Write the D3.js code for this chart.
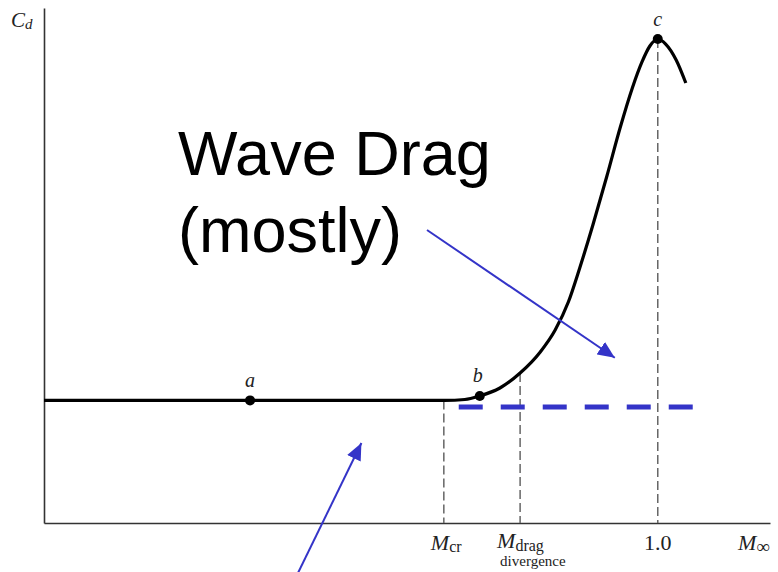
<!DOCTYPE html>
<html>
<head>
<meta charset="utf-8">
<script src="https://cdn.jsdelivr.net/npm/d3@7"></script>
<style>
  html, body { margin: 0; padding: 0; background: #fff; }
  svg { display: block; }
</style>
</head>
<body>
<svg id="chart" width="778" height="572"></svg>
<script>
// Drag coefficient vs. free-stream Mach number (transonic drag rise)
const machValues = [0.30, 0.535, 0.757, 0.780, 0.797, 0.820, 0.843, 0.866, 0.883, 0.898, 0.911, 0.926, 0.942, 0.957, 0.971, 0.982, 0.991, 1.000, 1.009, 1.021, 1.032];
const cdValues   = [0.0100, 0.0100, 0.0100, 0.01007, 0.01036, 0.01101, 0.01223, 0.01395, 0.01574, 0.01802, 0.02080, 0.02430, 0.02830, 0.03221, 0.03548, 0.03760, 0.03890, 0.03947, 0.03906, 0.03776, 0.03588];

// Labelled points on the curve
const pointNames = ["a", "b", "c"];
const pointMach  = [0.535, 0.797, 1.000];
const pointCd    = [0.0100, 0.01036, 0.03947];

// Reference Mach numbers marked on the axis
const markMach  = [0.756, 0.843, 1.000];
const markCdTop = [0.0100, 0.01223, 0.03947];

// Baseline (profile) drag extended past the critical Mach number
const baseMach = [0.773, 1.040];
const baseCd   = [0.00946, 0.00946];

const svg = d3.select("#chart");

const x = d3.scaleLinear().domain([0.30, 1.128]).range([44, 770]);
const y = d3.scaleLinear().domain([0, 0.042]).range([523, 8]);

// axes
const xAxis = d3.axisBottom(x).tickValues([]).tickSize(0).tickSizeOuter(0);
const yAxis = d3.axisLeft(y).tickValues([]).tickSize(0).tickSizeOuter(0);
const gx = svg.append("g").attr("transform", `translate(0,${y(0)})`).call(xAxis);
const gy = svg.append("g").attr("transform", `translate(${x(0.30)},0)`).call(yAxis);
[gx, gy].forEach(g => g.select(".domain").attr("stroke", "#333").attr("stroke-width", 1.6));

// vertical dashed guides
svg.append("g").selectAll("line")
  .data(markMach)
  .join("line")
  .attr("x1", d => x(d)).attr("x2", d => x(d))
  .attr("y1", (d, i) => y(markCdTop[i])).attr("y2", y(0))
  .attr("stroke", "#666")
  .attr("stroke-width", 1.5)
  .attr("stroke-dasharray", "9,4");

// drag curve
const curveData = machValues.map((m, i) => [m, cdValues[i]]);
svg.append("path")
  .datum(curveData)
  .attr("fill", "none")
  .attr("stroke", "#000")
  .attr("stroke-width", 3.2)
  .attr("d", d3.line().x(d => x(d[0])).y(d => y(d[1])).curve(d3.curveMonotoneX));

// baseline drag (blue dashed)
svg.append("line")
  .attr("x1", x(baseMach[0])).attr("x2", x(baseMach[1]))
  .attr("y1", y(baseCd[0])).attr("y2", y(baseCd[1]))
  .attr("stroke", "#3434c8")
  .attr("stroke-width", 5)
  .attr("stroke-dasharray", "24,18");

// points a, b, c
svg.append("g").selectAll("circle")
  .data(pointMach)
  .join("circle")
  .attr("cx", d => x(d))
  .attr("cy", (d, i) => y(pointCd[i]))
  .attr("r", 5)
  .attr("fill", "#000");

const serif = "'Liberation Serif', 'DejaVu Serif', serif";
const pointLabelDy = [-13, -14, -13];
const pointLabelDx = [0, -2, 0];
svg.append("g").selectAll("text")
  .data(pointNames)
  .join("text")
  .attr("x", (d, i) => x(pointMach[i]) + pointLabelDx[i])
  .attr("y", (d, i) => y(pointCd[i]) + pointLabelDy[i])
  .attr("text-anchor", "middle")
  .attr("font-family", serif)
  .attr("font-style", "italic")
  .attr("font-size", 20)
  .attr("fill", "#222")
  .text(d => d);

// axis titles
const cdLabel = svg.append("text")
  .attr("x", 11).attr("y", 27)
  .attr("font-family", serif).attr("font-style", "italic")
  .attr("font-size", 21).attr("fill", "#222");
cdLabel.append("tspan").text("C");
cdLabel.append("tspan").attr("font-size", 15).attr("dy", 2).text("d");

const mInf = svg.append("text")
  .attr("x", 738).attr("y", 550)
  .attr("font-family", serif).attr("font-size", 22).attr("fill", "#222");
mInf.append("tspan").attr("font-style", "italic").text("M");
mInf.append("tspan").attr("font-size", 19).attr("dy", 3).text("∞");

// axis mark labels
const mcr = svg.append("text")
  .attr("x", x(markMach[0]) - 13).attr("y", 550)
  .attr("font-family", serif).attr("font-size", 22).attr("fill", "#222");
mcr.append("tspan").attr("font-style", "italic").text("M");
mcr.append("tspan").attr("font-size", 16).attr("dy", 2).text("cr");

const mdd = svg.append("text")
  .attr("x", x(markMach[1]) - 23).attr("y", 548)
  .attr("font-family", serif).attr("font-size", 22).attr("fill", "#222");
mdd.append("tspan").attr("font-style", "italic").text("M");
mdd.append("tspan").attr("font-size", 16).attr("dy", 3).text("drag");
svg.append("text")
  .attr("x", x(markMach[1]) - 20).attr("y", 566)
  .attr("font-family", serif).attr("font-size", 15).attr("fill", "#222")
  .text("divergence");

svg.append("text")
  .attr("x", x(markMach[2])).attr("y", 550)
  .attr("text-anchor", "middle")
  .attr("font-family", serif).attr("font-size", 22).attr("fill", "#222")
  .text("1.0");

// annotation
const sans = "'Liberation Sans', Arial, sans-serif";
svg.append("text").attr("x", 178).attr("y", 175)
  .attr("font-family", sans).attr("font-size", 63).attr("fill", "#000")
  .text("Wave Drag");
svg.append("text").attr("x", 178).attr("y", 252)
  .attr("font-family", sans).attr("font-size", 63).attr("fill", "#000")
  .text("(mostly)");

// blue arrows
const defs = svg.append("defs");
defs.append("marker")
  .attr("id", "arrowhead")
  .attr("viewBox", "0 0 10 10")
  .attr("refX", 10).attr("refY", 5)
  .attr("markerWidth", 17).attr("markerHeight", 15)
  .attr("markerUnits", "userSpaceOnUse")
  .attr("orient", "auto")
  .attr("preserveAspectRatio", "none")
  .append("path")
  .attr("d", "M0,0 L10,5 L0,10 Z")
  .attr("fill", "#3434c8");

svg.append("line")
  .attr("x1", 427).attr("y1", 230)
  .attr("x2", x(0.951)).attr("y2", y(0.01348))
  .attr("stroke", "#3434c8").attr("stroke-width", 2)
  .attr("marker-end", "url(#arrowhead)");

svg.append("line")
  .attr("x1", 297).attr("y1", 575)
  .attr("x2", x(0.662)).attr("y2", y(0.00652))
  .attr("stroke", "#3434c8").attr("stroke-width", 2)
  .attr("marker-end", "url(#arrowhead)");
</script>
</body>
</html>
